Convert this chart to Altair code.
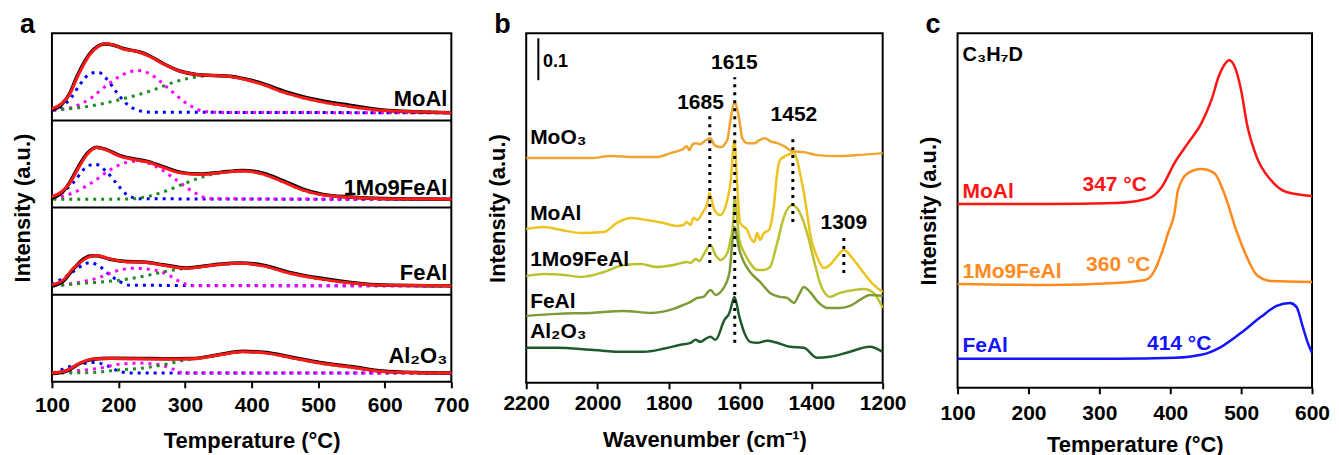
import altair as alt
import pandas as pd

FONT = "Liberation Sans"

# ---------------- Panel a : deconvoluted TPD profiles ----------------
A_ORDER = ["MoAl", "1Mo9FeAl", "FeAl", "Al₂O₃"]
A_OFFSET = {"MoAl": 261.75, "1Mo9FeAl": 174.5, "FeAl": 87.25, "Al₂O₃": 0.0}

moal_fit_T = [100, 114.5, 127, 137, 147, 157, 169.5, 179.5, 192, 207, 232, 247, 267, 292, 317, 342, 367, 392, 417, 447, 477, 507, 547, 597, 647, 700]
moal_fit_I = [11.7, 16.7, 26.7, 41.7, 55, 66, 74, 76.7, 75.7, 71.7, 68.3, 64, 56.7, 49.3, 46, 45, 44, 40.7, 36, 28.3, 22.7, 18.3, 14, 10, 8.7, 7.7]
moal_exp_I = [10.5, 16, 27.5, 43, 56.5, 67, 74.5, 76.5, 75.5, 72, 68.5, 64.5, 57, 49.5, 46, 45, 44.3, 41.2, 36.8, 29.5, 23.8, 19.6, 15.3, 10.5, 8.7, 7.8]
moal_c1_T = [100, 117, 129.5, 142, 157, 169.5, 182, 197, 212, 227, 247, 700]
moal_c1_I = [10, 15, 23.3, 36, 46.7, 48.3, 41.7, 28.3, 16.7, 10.7, 8.3, 7.7]
moal_c2_T = [102, 132, 157, 182, 207, 229.5, 247, 267, 287, 307, 327, 352, 700]
moal_c2_I = [10, 13.3, 21.7, 35, 46, 50, 46.7, 36.7, 25, 15, 9.3, 8, 7.7]
moal_c3_T = [102, 147, 197, 247, 292, 322, 342, 367, 392, 417, 447, 477, 507, 547, 597, 647, 700]
moal_c3_I = [10.7, 13.3, 20, 29.3, 40, 44, 45, 44, 40.7, 36, 28.3, 22.7, 18.3, 14, 10, 8.7, 7.7]

mf_fit_T = [100, 114.5, 127, 139.5, 152, 167, 182, 202, 222, 242, 267, 292, 322, 352, 387, 417, 447, 477, 507, 547, 597, 700]
mf_fit_I = [10.8, 15.8, 24.8, 39.2, 52.5, 60.2, 57.5, 51.5, 48.2, 45.8, 40.2, 34.8, 33.2, 34.8, 36.5, 33.5, 25.8, 17.5, 12.5, 10.2, 8.8, 8.2]
mf_exp_I = [9.5, 14.5, 25.5, 40.5, 53.5, 60.5, 58, 52, 48.8, 46.5, 41, 35.5, 33.5, 35.2, 37.2, 34.5, 27, 18.5, 13.2, 10.6, 9, 8.3]
mf_c1_T = [102, 132, 149.5, 164.5, 182, 197, 212, 232, 700]
mf_c1_I = [10.2, 24.8, 39.2, 43.5, 35.8, 24.2, 13.2, 8.8, 8.2]
mf_c2_T = [102, 132, 162, 187, 212, 232, 257, 287, 312, 337, 700]
mf_c2_I = [8.8, 14.8, 25.8, 37.5, 45.2, 46.5, 40.8, 27.5, 15.8, 8.8, 8.2]
mf_c3_T = [102, 212, 242, 272, 302, 332, 352, 387, 417, 447, 477, 507, 547, 597, 700]
mf_c3_I = [8.2, 8.5, 10.8, 16.8, 24.8, 31.8, 34.8, 36.5, 33.5, 25.8, 17.5, 12.5, 10.2, 8.8, 8.2]

fe_fit_T = [100, 117, 132, 147, 157, 167, 187, 212, 237, 267, 302, 342, 382, 417, 457, 502, 552, 597, 700]
fe_fit_I = [9.8, 14.8, 26.4, 34.8, 38.1, 39.1, 35.8, 32.8, 32.4, 29.4, 26.4, 29.4, 31.4, 28.8, 21.4, 15.8, 11.4, 9.4, 8.8]
fe_exp_I = [8.5, 13.5, 25.5, 35.5, 38.8, 39, 35.5, 33.2, 32.8, 30, 26.8, 29.8, 31.8, 29.5, 22.3, 16.6, 12, 9.6, 8.8]
fe_c1_T = [100, 132, 147, 157, 172, 187, 202, 217, 700]
fe_c1_I = [9.8, 23.1, 29.8, 32.1, 28.1, 19.8, 13.1, 9.4, 8.8]
fe_c2_T = [102, 147, 172, 197, 222, 242, 272, 292, 312, 700]
fe_c2_I = [8.8, 13.1, 17.4, 23.8, 26.4, 25.8, 20.8, 13.1, 8.8, 8.8]
fe_c3_T = [102, 147, 182, 212, 247, 277, 302, 342, 382, 417, 457, 502, 552, 597, 700]
fe_c3_I = [8.8, 11.4, 13.1, 15.4, 19.8, 24.1, 26.4, 29.4, 31.4, 28.8, 21.4, 15.8, 11.4, 9.4, 8.8]

al_fit_T = [100, 122, 142, 162, 187, 232, 272, 312, 352, 387, 422, 462, 502, 552, 597, 647, 700]
al_fit_I = [8.7, 11.3, 18.7, 22.7, 23.3, 23, 22.7, 23, 27, 30, 28.7, 23.7, 18.7, 14.3, 10.3, 9, 8.7]
al_exp_I = [8.2, 10.8, 18.3, 22.5, 23.5, 23.4, 23.1, 23.3, 27.4, 30.6, 29.3, 24.4, 19.4, 15, 10.8, 9.2, 8.7]
al_c1_T = [102, 137, 164.5, 182, 202, 222, 700]
al_c1_I = [8.7, 17, 19.3, 16.3, 10.3, 8.7, 8.7]
al_c2_T = [102, 142, 172, 202, 232, 262, 282, 297, 700]
al_c2_I = [8.7, 11.3, 13.7, 17.7, 18.7, 17, 12.7, 8.7, 8.7]
al_c3_T = [102, 162, 202, 237, 272, 302, 312, 352, 387, 422, 462, 502, 552, 597, 647, 700]
al_c3_I = [8.7, 9.3, 12, 13.7, 17.7, 22, 23, 27, 30, 28.7, 23.7, 18.7, 14.3, 10.3, 9, 8.7]

A_DATA = {
    "MoAl": {"fit": (moal_fit_T, moal_fit_I), "exp": (moal_fit_T, moal_exp_I),
             "c1": (moal_c1_T, moal_c1_I), "c2": (moal_c2_T, moal_c2_I), "c3": (moal_c3_T, moal_c3_I)},
    "1Mo9FeAl": {"fit": (mf_fit_T, mf_fit_I), "exp": (mf_fit_T, mf_exp_I),
                 "c1": (mf_c1_T, mf_c1_I), "c2": (mf_c2_T, mf_c2_I), "c3": (mf_c3_T, mf_c3_I)},
    "FeAl": {"fit": (fe_fit_T, fe_fit_I), "exp": (fe_fit_T, fe_exp_I),
             "c1": (fe_c1_T, fe_c1_I), "c2": (fe_c2_T, fe_c2_I), "c3": (fe_c3_T, fe_c3_I)},
    "Al₂O₃": {"fit": (al_fit_T, al_fit_I), "exp": (al_fit_T, al_exp_I),
              "c1": (al_c1_T, al_c1_I), "c2": (al_c2_T, al_c2_I), "c3": (al_c3_T, al_c3_I)},
}
A_LABEL_T = 694
A_LABEL_REL = {"MoAl": 21.25, "1Mo9FeAl": 19.5, "FeAl": 21.75, "Al₂O₃": 26}

# ---------------- Panel b : DRIFT spectra ----------------
B_ORDER = ["MoO₃", "MoAl", "1Mo9FeAl", "FeAl", "Al₂O₃"]
B_COLORS = ["#EFA52F", "#EEC21F", "#BCC12E", "#7D9B36", "#1E5A2B"]
moo3_W = [2200, 2018, 1963, 1898, 1834, 1795, 1767, 1760, 1750, 1742, 1735, 1725, 1712, 1703, 1683, 1672, 1655, 1636, 1627, 1616, 1602, 1594, 1580, 1560, 1546, 1530, 1516, 1496, 1477, 1454, 1421, 1384, 1329, 1273, 1200]
moo3_I = [225, 225, 227, 226, 226, 230, 233, 234, 237, 233, 238, 240, 239, 241, 245, 238, 236, 243, 263, 281, 263, 245, 240, 240, 243, 245, 242, 240, 237, 232, 231, 228, 227, 228, 230]
moal_W = [2200, 2150, 2102, 2046, 1982, 1946, 1907, 1862, 1815, 1778, 1759, 1750, 1739, 1731, 1720, 1706, 1692, 1686, 1672, 1655, 1636, 1627, 1616, 1608, 1600, 1580, 1572, 1560, 1552, 1544, 1533, 1519, 1505, 1496, 1488, 1468, 1449, 1440, 1432, 1421, 1412, 1404, 1384, 1365, 1348, 1329, 1309, 1281, 1253, 1225, 1200]
moal_I = [154, 156, 153, 150, 151, 160, 165, 163, 160, 157, 158, 161, 158, 165, 163, 170, 180, 190, 173, 168, 183, 200, 243, 198, 160, 153, 146, 141, 150, 143, 150, 153, 178, 210, 223, 228, 230, 223, 210, 190, 170, 150, 126, 115, 118, 126, 133, 123, 110, 98, 91]
mf_W = [2200, 2150, 2094, 2046, 1982, 1926, 1879, 1834, 1787, 1750, 1739, 1725, 1714, 1703, 1683, 1669, 1655, 1636, 1627, 1619, 1616, 1602, 1588, 1572, 1552, 1533, 1516, 1496, 1477, 1454, 1432, 1412, 1393, 1376, 1348, 1320, 1281, 1253, 1225, 1200]
mf_I = [107, 109, 108, 106, 111, 118, 119, 116, 118, 121, 120, 124, 122, 128, 138, 128, 123, 130, 143, 163, 186, 143, 130, 120, 113, 113, 116, 140, 166, 178, 170, 150, 123, 100, 86, 90, 93, 94, 90, 75]
fe_W = [2200, 2113, 2018, 1926, 1851, 1787, 1759, 1739, 1720, 1703, 1683, 1669, 1650, 1630, 1622, 1616, 1602, 1588, 1572, 1544, 1516, 1488, 1468, 1449, 1435, 1421, 1404, 1379, 1357, 1320, 1292, 1264, 1236, 1200]
fe_I = [67, 69, 70, 72, 70, 74, 78, 81, 85, 86, 93, 88, 93, 110, 140, 156, 133, 120, 111, 101, 90, 86, 85, 80, 88, 96, 91, 80, 75, 75, 77, 83, 88, 87]
al_W = [2200, 2113, 2018, 1926, 1870, 1815, 1767, 1739, 1725, 1711, 1697, 1683, 1669, 1644, 1630, 1622, 1616, 1602, 1588, 1572, 1552, 1524, 1496, 1460, 1421, 1384, 1348, 1301, 1236, 1200]
al_I = [35, 35, 33, 31, 31, 34, 38, 40, 43, 41, 44, 46, 43, 63, 70, 80, 86, 66, 50, 41, 40, 42, 40, 36, 35, 25, 26, 30, 36, 31]
B_DATA = {"MoO₃": (moo3_W, moo3_I), "MoAl": (moal_W, moal_I), "1Mo9FeAl": (mf_W, mf_I),
          "FeAl": (fe_W, fe_I), "Al₂O₃": (al_W, al_I)}
B_LABEL_W = 2189
B_LABEL_I = [245, 169, 123, 81, 51]
B_PEAKS = [1685, 1615, 1452, 1309]
B_PEAK_LO = [120, 40, 161, 110]
B_PEAK_HI = [268, 306, 248, 146]
B_PEAK_TXT_W = [1711, 1616, 1449, 1309]
B_PEAK_TXT_I = [280, 320, 268, 160]
B_BAR_W = 2166
B_BAR = [303, 345]     # 0.1 absorbance scale bar
B_BAR_TXT = (2153, 321, "0.1")

# ---------------- Panel c : C3H7D TPSR ----------------
C_ORDER = ["MoAl", "1Mo9FeAl", "FeAl"]
C_COLORS = ["#FF1414", "#FF8A1E", "#1414FF"]
c_moal_T = [100, 230, 323, 360, 374, 388, 406, 425, 444, 458, 469, 479, 483, 490, 500, 508, 522, 542, 564, 600]
c_moal_I = [184, 184, 185, 188, 191, 201, 225, 245, 265, 288, 313, 326, 328, 323, 298, 265, 231, 208, 196, 192]
c_mf_T = [100, 230, 323, 365, 376, 388, 397, 406, 411, 425, 444, 462, 476, 493, 508, 522, 542, 600]
c_mf_I = [104, 103, 105, 108, 115, 135, 155, 175, 198, 215, 219, 215, 195, 158, 131, 113, 107, 106]
c_fe_T = [100, 323, 406, 444, 472, 500, 528, 550, 569, 578, 587, 594, 600]
c_fe_I = [29, 29, 30, 33, 41, 55, 71, 82, 85, 81, 61, 45, 35]
C_DATA = {"MoAl": (c_moal_T, c_moal_I), "1Mo9FeAl": (c_mf_T, c_mf_I), "FeAl": (c_fe_T, c_fe_I)}
C_NAME_T = 107
C_NAME_I = [196, 116, 42]
C_ONSET = ["347 °C", "360 °C", "414 °C"]
C_ONSET_T = [367, 372, 458]
C_ONSET_I = [203, 123, 44]
C_SPECIES = (107, 333, "C₃H₇D")


# ---------------- helpers ----------------
def x_axis(values, step, title, label_pad, title_pad):
    return alt.Axis(
        values=list(values), format="d", title=title,
        labelExpr=f"datum.value % {step} === 0 ? datum.label : ''",
        tickSize={"condition": {"test": f"datum.value % {step} === 0", "value": 6}, "value": 3},
        labelPadding=label_pad, titlePadding=title_pad, labelOverlap=False, labelBound=False,
        labelFlush=False, labelAlign="center",
    )


def y_axis():
    return alt.Axis(labels=False, ticks=False, domain=False, title="Intensity (a.u.)", titlePadding=17)


def panel_title(letter):
    return alt.TitleParams(letter, anchor="start", frame="group", dx=-32, offset=-27, fontSize=27, font=FONT,
                           fontWeight="bold", baseline="alphabetic", color="black")


# ---------------- panel a ----------------
rows = []
for s in A_ORDER:
    for kind, (T, I) in A_DATA[s].items():
        for t, v in zip(T, I):
            rows.append({"sample": s, "kind": kind, "T": t, "I": v + A_OFFSET[s]})
dfa = pd.DataFrame(rows)
xa = alt.X("T:Q", scale=alt.Scale(domain=[100, 700], nice=False), axis=x_axis(range(100, 701, 50), 100, "Temperature (°C)", 7, 15))
ya = alt.Y("I:Q", scale=alt.Scale(domain=[0, 349], nice=False, zero=False), axis=y_axis())

base_a = alt.Chart(dfa)
comps = base_a.transform_filter("datum.kind[0] === 'c'").mark_line(
    strokeDash=[3, 5], strokeWidth=3, interpolate="monotone"
).encode(
    x=xa, y=ya, detail="sample:N",
    color=alt.Color("kind:N", scale=alt.Scale(domain=["c3", "c2", "c1"], range=["#1E8C1E", "#FF00FF", "#0000FF"]), legend=None),
    order=alt.Order("T:Q"),
)
exp_l = base_a.transform_filter("datum.kind === 'exp'").mark_line(
    color="black", strokeWidth=3.5, interpolate="monotone").encode(x=xa, y=ya, detail="sample:N")
fit_l = base_a.transform_filter("datum.kind === 'fit'").mark_line(
    color="#FF1A1A", strokeWidth=3, interpolate="monotone").encode(x=xa, y=ya, detail="sample:N")
sep_df = pd.DataFrame({"I": [A_OFFSET["FeAl"], A_OFFSET["1Mo9FeAl"], A_OFFSET["MoAl"]]})
seps = alt.Chart(sep_df).mark_rule(color="black", strokeWidth=2).encode(y=alt.Y("I:Q"))
lab_a = pd.DataFrame({"T": [A_LABEL_T] * 4, "I": [A_OFFSET[s] + A_LABEL_REL[s] for s in A_ORDER], "txt": A_ORDER})
txt_a = alt.Chart(lab_a).mark_text(align="right", baseline="middle", font=FONT, fontSize=22,
                                   fontWeight="bold", color="black").encode(x="T:Q", y="I:Q", text="txt:N")
pa = alt.layer(comps, exp_l, fit_l, seps, txt_a).properties(width=400, height=349, title=panel_title("a"))

# ---------------- panel b ----------------
rows = []
for s in B_ORDER:
    W, I = B_DATA[s]
    for w, v in zip(W, I):
        rows.append({"sample": s, "W": w, "I": v})
dfb = pd.DataFrame(rows)
xb = alt.X("W:Q", scale=alt.Scale(domain=[2200, 1200], nice=False), axis=x_axis(range(1200, 2201, 100), 200, "Wavenumber (cm⁻¹)", 4, 16))
yb = alt.Y("I:Q", scale=alt.Scale(domain=[0, 350], nice=False, zero=False), axis=y_axis())
spec = alt.Chart(dfb).mark_line(strokeWidth=2.5, interpolate="monotone").encode(
    x=xb, y=yb, color=alt.Color("sample:N", scale=alt.Scale(domain=B_ORDER, range=B_COLORS), legend=None),
    order=alt.Order("W:Q"))
pk_df = pd.DataFrame({"W": B_PEAKS, "I": B_PEAK_LO, "I2": B_PEAK_HI})
pk = alt.Chart(pk_df).mark_rule(color="black", strokeWidth=3, strokeDash=[3, 5]).encode(x="W:Q", y="I:Q", y2="I2:Q")
pkt_df = pd.DataFrame({"W": B_PEAK_TXT_W, "I": B_PEAK_TXT_I, "txt": [str(p) for p in B_PEAKS]})
pkt = alt.Chart(pkt_df).mark_text(font=FONT, fontSize=21, fontWeight="bold", color="black", baseline="middle").encode(
    x="W:Q", y="I:Q", text="txt:N")
bar = alt.Chart(pd.DataFrame({"W": [B_BAR_W], "I": [B_BAR[0]], "I2": [B_BAR[1]]})).mark_rule(
    color="black", strokeWidth=2).encode(x="W:Q", y="I:Q", y2="I2:Q")
bart = alt.Chart(pd.DataFrame({"W": [B_BAR_TXT[0]], "I": [B_BAR_TXT[1]], "txt": [B_BAR_TXT[2]]})).mark_text(
    align="left", baseline="middle", font=FONT, fontSize=18, fontWeight="bold", color="black").encode(
    x="W:Q", y="I:Q", text="txt:N")
blab = pd.DataFrame({"W": [B_LABEL_W] * 5, "I": B_LABEL_I, "txt": B_ORDER})
btxt = alt.Chart(blab).mark_text(align="left", baseline="middle", font=FONT, fontSize=21, fontWeight="bold",
                                 color="black").encode(x="W:Q", y="I:Q", text="txt:N")
pb = alt.layer(spec, pk, pkt, bar, bart, btxt).properties(width=357, height=350, title=panel_title("b"))

# ---------------- panel c ----------------
rows = []
for s in C_ORDER:
    T, I = C_DATA[s]
    for t, v in zip(T, I):
        rows.append({"sample": s, "T": t, "I": v})
dfc = pd.DataFrame(rows)
xc = alt.X("T:Q", scale=alt.Scale(domain=[100, 600], nice=False), axis=x_axis(range(100, 601, 50), 100, "Temperature (°C)", 9, 11))
yc = alt.Y("I:Q", scale=alt.Scale(domain=[0, 355], nice=False, zero=False), axis=y_axis())
cscale = alt.Scale(domain=C_ORDER, range=C_COLORS)
cl = alt.Chart(dfc).mark_line(strokeWidth=2.5, interpolate="monotone").encode(
    x=xc, y=yc, color=alt.Color("sample:N", scale=cscale, legend=None), order=alt.Order("T:Q"))
cn = alt.Chart(pd.DataFrame({"T": [C_NAME_T] * 3, "I": C_NAME_I, "sample": C_ORDER})).mark_text(
    align="left", baseline="middle", font=FONT, fontSize=21, fontWeight="bold").encode(
    x="T:Q", y="I:Q", text="sample:N", color=alt.Color("sample:N", scale=cscale, legend=None))
co = alt.Chart(pd.DataFrame({"T": C_ONSET_T, "I": C_ONSET_I, "sample": C_ORDER, "txt": C_ONSET})).mark_text(
    align="right", baseline="middle", font=FONT, fontSize=21, fontWeight="bold").encode(
    x="T:Q", y="I:Q", text="txt:N", color=alt.Color("sample:N", scale=cscale, legend=None))
csp = alt.Chart(pd.DataFrame({"T": [C_SPECIES[0]], "I": [C_SPECIES[1]], "txt": [C_SPECIES[2]]})).mark_text(
    align="left", baseline="middle", font=FONT, fontSize=20, fontWeight="bold", color="black").encode(
    x="T:Q", y="I:Q", text="txt:N")
pc = alt.layer(cl, cn, co, csp).properties(width=355, height=355, title=panel_title("c"))

chart = alt.hconcat(pa, pb, pc, spacing=75, bounds="flush").resolve_scale(color="independent").properties(
    padding={"left": 3, "top": 2, "right": 0, "bottom": 0}, background="white"
).configure_view(stroke="black", strokeWidth=2).configure_axis(
    grid=False, domain=False, labelFont=FONT, labelFontSize=21, labelFontWeight="bold", labelColor="black",
    titleFont=FONT, titleFontSize=22, titleFontWeight="bold", titleColor="black",
    tickColor="black", tickWidth=2,
)

chart.save("out.html", embed_options={"renderer": "svg", "actions": False})
